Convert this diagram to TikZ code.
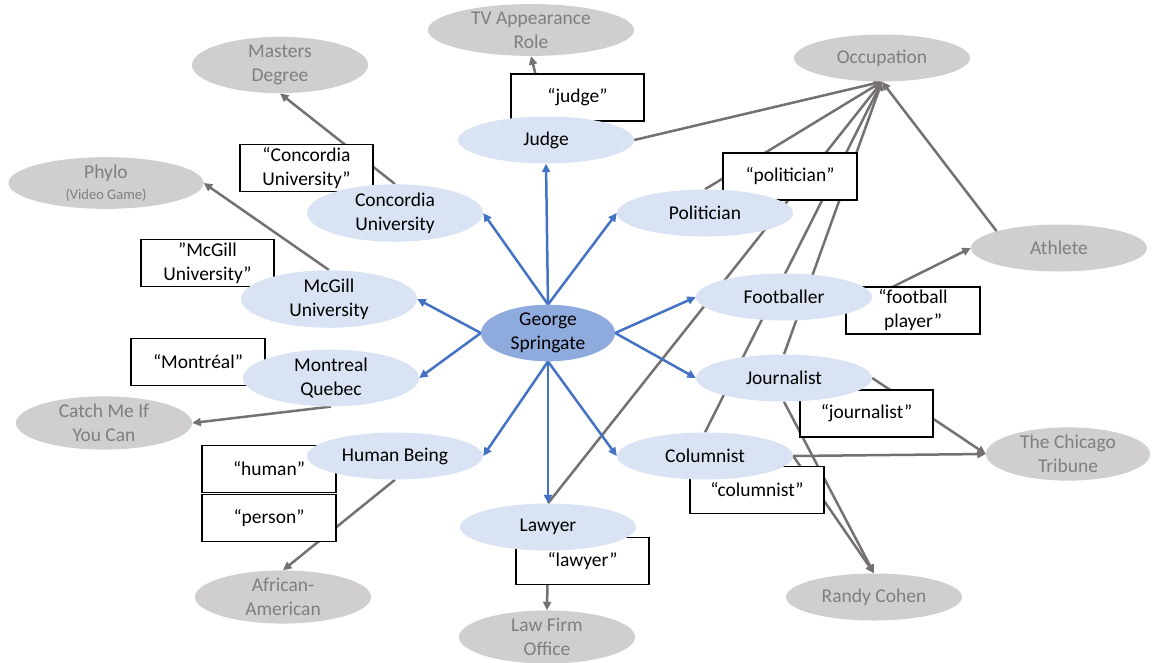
\documentclass[tikz,border=0pt]{standalone}
\usepackage{fontspec}
\setmainfont{Carlito}
\usetikzlibrary{shapes.geometric,arrows.meta}
\definecolor{lblue}{HTML}{DAE3F3}
\definecolor{gblue}{HTML}{8FAADC}
\definecolor{gfill}{HTML}{D0CECE}
\definecolor{gtext}{HTML}{7F7F7F}
\definecolor{gline}{HTML}{767171}
\definecolor{bline}{HTML}{4472C4}
\pgfdeclarelayer{glines}
\pgfdeclarelayer{blines}
\pgfsetlayers{glines,blines,main}
\newcommand{\nf}{\fontsize{19.5pt}{24pt}\selectfont}
\newcommand{\smallvg}{\fontsize{14.5pt}{17pt}\selectfont}
\begin{document}
\begin{tikzpicture}[x=1pt,y=-1pt,
  ent/.style={ellipse,inner sep=0pt,minimum width=176pt,minimum height=47pt,align=center,font=\nf},
  bn/.style={ent,fill=lblue},
  gn/.style={ent,fill=gfill,text=gtext},
  lbox/.style={rectangle,draw=black,line width=1.3pt,fill=white,minimum width=133pt,minimum height=47pt,inner sep=0pt,align=center,font=\nf},
  gl/.style={draw=gline,line width=2.5pt,-{Triangle[length=8.5pt,width=8pt]}},
  bl/.style={draw=bline,line width=2.5pt,-{Triangle[length=8.5pt,width=8pt]}},
]
\useasboundingbox (0,0) rectangle (1158,662);
% label boxes
\node[lbox] (judgeq) at (577.5,97.5) {“judge”};
\node[lbox] (concq) at (306.5,168) {“Concordia\\University”};
\node[lbox] (mcgq) at (207.5,263) {”McGill\\University”};
\node[lbox,minimum width=134pt] (montq) at (198,362) {“Montréal”};
\node[lbox,minimum width=134pt] (humq) at (269,469) {“human”};
\node[lbox,minimum width=134pt] (perq) at (269,518) {“person”};
\node[lbox,minimum width=134pt] (polq) at (790,176.5) {“politician”};
\node[lbox,minimum width=134pt] (footq) at (913,310.5) {“football\\player”};
\node[lbox] (jouq) at (866.5,413.5) {“journalist”};
\node[lbox,minimum width=134pt] (colq) at (757,490) {“columnist”};
\node[lbox] (lawq) at (582.5,561) {“lawyer”};
% gray entity nodes
\node[gn,minimum width=206pt] (tv) at (531,30) {TV Appearance\\Role};
\node[gn] (mast) at (280,65) {Masters\\Degree};
\node[gn,minimum width=195pt] (phylo) at (106,183) {Phylo\\[-3pt]{\smallvg (Video Game)}};
\node[gn] (occ) at (882,58) {Occupation};
\node[gn] (ath) at (1059,248) {Athlete};
\node[gn] (catch) at (104,423) {Catch Me If\\You Can};
\node[gn,minimum width=164pt] (trib) at (1068,454) {The Chicago\\Tribune};
\node[gn] (afam) at (283,597) {African-\\American};
\node[gn] (firm) at (547,637) {Law Firm\\Office};
\node[gn] (randy) at (874,597) {Randy Cohen};
% blue entity nodes
\node[bn] (judge) at (546,140) {Judge};
\node[bn] (conc) at (395,213) {Concordia\\University};
\node[bn] (pol) at (705,213) {Politician};
\node[bn] (mcg) at (329,299) {McGill\\University};
\node[bn] (foot) at (784,297) {Footballer};
\node[bn] (mont) at (331,378) {Montreal\\Quebec};
\node[bn] (jou) at (784,378) {Journalist};
\node[bn] (hb) at (395,456) {Human Being};
\node[bn] (col) at (705,456) {Columnist};
\node[bn] (law) at (548,527) {Lawyer};
\node[ent,fill=gblue,minimum width=134pt] (g) at (548,333) {George\\Springate};
% gray connectors
\begin{pgfonlayer}{glines}
\draw[gl] (judge.north) -- (tv.south);
\draw[gl] (conc.north) -- (mast.south);
\draw[gl] (mcg.north) -- (phylo.east);
\draw[gl] (mont.south) -- (catch.east);
\draw[gl] (hb.south) -- (afam.north);
\draw[gl] (law.south) -- (firm.north);
\draw[gl] (judge.east) -- (occ.south);
\draw[gl] (pol.north) -- (occ.south);
\draw[gl] (law.north) -- (occ.south);
\draw[gl] (col.north) -- (occ.south);
\draw[gl] (jou.north) -- (occ.south);
\draw[gl] (ath.north west) -- (occ.south);
\draw[gl] (foot.east) -- (ath.west);
\draw[gl] (jou.east) -- (trib.west);
\draw[gl] (col.east) -- (trib.west);
\draw[gl] (jou.south) -- (randy.north);
\draw[gl] (col.east) -- (randy.north);
\end{pgfonlayer}
% blue connectors
\begin{pgfonlayer}{blines}
\draw[bl] (g.north) -- (judge.south);
\draw[bl] (g.north) -- (conc.east);
\draw[bl] (g.north) -- (pol.west);
\draw[bl] (g.west) -- (mcg.east);
\draw[bl] (g.west) -- (mont.east);
\draw[bl] (g.east) -- (foot.west);
\draw[bl] (g.east) -- (jou.west);
\draw[bl] (g.south) -- (hb.east);
\draw[bl] (g.south) -- (law.north);
\draw[bl] (g.south) -- (col.west);
\end{pgfonlayer}
\end{tikzpicture}
\end{document}
